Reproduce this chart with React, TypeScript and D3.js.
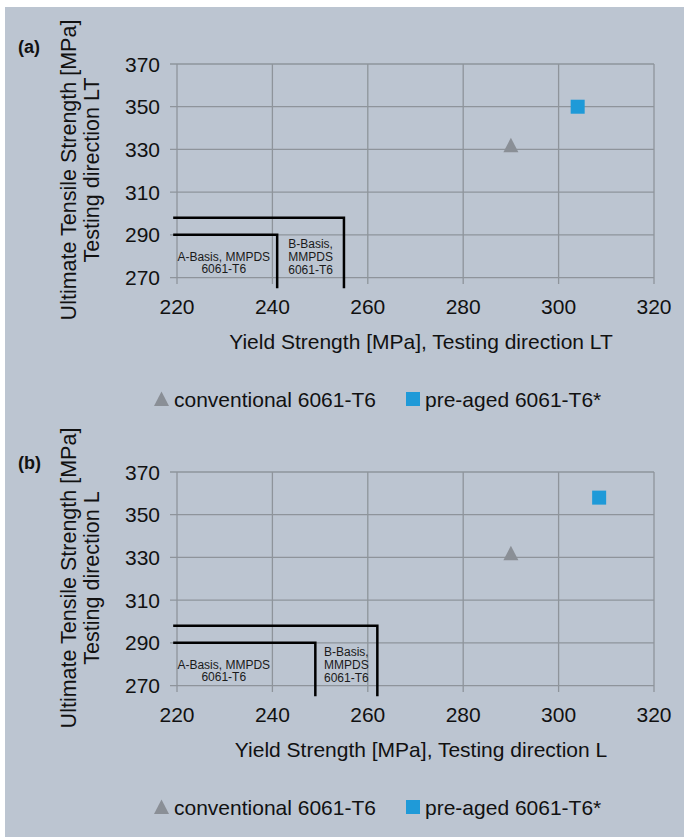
import React, { useEffect, useRef } from 'react'
import * as d3 from 'd3'

// axis ticks
const xTicks = [220, 240, 260, 280, 300, 320]
const yTicks = [270, 290, 310, 330, 350, 370]

// measured points [yield, UTS]
const conventionalLT = [290, 332]
const preAgedLT = [304, 350]
const conventionalL = [290, 332]
const preAgedL = [308.5, 358]

// MMPDS design allowables [yield, UTS]
const aBasisLT = [241, 290]
const bBasisLT = [255, 298]
const aBasisL = [249, 290]
const bBasisL = [262, 298]

const legendLabels = ['conventional 6061-T6', 'pre-aged 6061-T6*']

const FONT = '"Liberation Sans", Arial, sans-serif'
const BG = '#bcc5d1'
const GRID = '#8e949b'
const GREY = '#8a8f96'
const BLUE = '#1f9ad8'

function drawPanel(svg: any, opts: any) {
  const { top, label, labelY, dir, conv, pre, aB, bB } = opts
  const left = 177, right = 654
  const x = d3.scaleLinear().domain([220, 320]).range([left, right])
  const y = d3.scaleLinear().domain([267, 370]).range([top + 220, top])
  const bottom = y(267)

  const g = svg.append('g')

  // gridlines
  g.selectAll('line.h').data(yTicks).enter().append('line')
    .attr('x1', left - 7).attr('x2', right)
    .attr('y1', (d: number) => y(d)).attr('y2', (d: number) => y(d))
    .attr('stroke', GRID).attr('stroke-width', 1.3)
  g.selectAll('line.v').data(xTicks).enter().append('line')
    .attr('x1', (d: number) => x(d)).attr('x2', (d: number) => x(d))
    .attr('y1', top).attr('y2', bottom)
    .attr('stroke', GRID).attr('stroke-width', 1.3)

  // tick labels
  g.selectAll('text.yt').data(yTicks).enter().append('text')
    .attr('x', left - 17).attr('y', (d: number) => y(d)).attr('dy', '0.36em')
    .attr('text-anchor', 'end').attr('font-size', 21).attr('font-family', FONT)
    .attr('fill', '#111').text((d: number) => d)
  g.selectAll('text.xt').data(xTicks).enter().append('text')
    .attr('x', (d: number) => x(d)).attr('y', bottom + 22.5).attr('dy', '0.36em')
    .attr('text-anchor', 'middle').attr('font-size', 21).attr('font-family', FONT)
    .attr('fill', '#111').text((d: number) => d)

  // allowable boxes
  const xs = x(219.2)
  ;[aB, bB].forEach((b: number[]) => {
    g.append('path')
      .attr('d', `M${xs},${y(b[1])}H${x(b[0])}V${y(265)}`)
      .attr('fill', 'none').attr('stroke', '#000').attr('stroke-width', 2.5)
  })
  const aText = g.append('text').attr('font-size', 12).attr('font-family', FONT)
    .attr('fill', '#1a1a1a').attr('text-anchor', 'middle')
  ;['A-Basis, MMPDS', '6061-T6'].forEach((t, i) => {
    aText.append('tspan').attr('x', x(229.8)).attr('y', y(280) + 4.5 + i * 12.5).text(t)
  })
  const bText = g.append('text').attr('font-size', 12).attr('font-family', FONT)
    .attr('fill', '#1a1a1a').attr('text-anchor', 'middle')
  ;['B-Basis,', 'MMPDS', '6061-T6'].forEach((t, i) => {
    bText.append('tspan').attr('x', x((aB[0] + bB[0]) / 2)).attr('y', y(286) + 4.5 + i * 13).text(t)
  })

  // markers
  const tri = (cx: number, cy: number) =>
    `M${cx},${cy - 7.5}L${cx + 7.5},${cy + 7}L${cx - 7.5},${cy + 7}Z`
  g.append('path').attr('d', tri(x(conv[0]), y(conv[1]))).attr('fill', GREY)
  g.append('rect')
    .attr('x', x(pre[0]) - 7).attr('y', y(pre[1]) - 7)
    .attr('width', 14).attr('height', 14).attr('fill', BLUE)

  // panel label
  g.append('text').attr('x', 18).attr('y', labelY).attr('font-size', 18)
    .attr('font-weight', 'bold').attr('font-family', FONT).attr('fill', '#111').text(label)

  // axis titles
  const yMid = (top + bottom) / 2 - 4
  ;[`Ultimate Tensile Strength [MPa]`, `Testing direction ${dir}`].forEach((t, i) => {
    g.append('text').attr('transform', `translate(${68 + i * 23},${yMid}) rotate(-90)`)
      .attr('dy', '0.36em').attr('text-anchor', 'middle').attr('font-size', 21.5)
      .attr('font-family', FONT).attr('fill', '#111').text(t)
  })
  g.append('text').attr('x', 421).attr('y', bottom + 57).attr('dy', '0.36em')
    .attr('text-anchor', 'middle').attr('font-size', 21).attr('font-family', FONT)
    .attr('fill', '#111').text(`Yield Strength [MPa], Testing direction ${dir}`)

  // legend
  const ly = bottom + 115
  g.append('path').attr('d', tri(161.5, ly)).attr('fill', GREY)
  g.append('text').attr('x', 174).attr('y', ly).attr('dy', '0.36em').attr('font-size', 21)
    .attr('font-family', FONT).attr('fill', '#111').text(legendLabels[0])
  g.append('rect').attr('x', 406).attr('y', ly - 7).attr('width', 14).attr('height', 14).attr('fill', BLUE)
  g.append('text').attr('x', 425).attr('y', ly).attr('dy', '0.36em').attr('font-size', 21)
    .attr('font-family', FONT).attr('fill', '#111').text(legendLabels[1])
}

export default function App() {
  const ref = useRef<SVGSVGElement>(null)

  useEffect(() => {
    const svg = d3.select(ref.current)
    svg.selectAll('*').remove()

    svg.append('rect').attr('x', 5).attr('y', 7).attr('width', 679).attr('height', 830).attr('fill', BG)

    drawPanel(svg, { top: 64, label: '(a)', labelY: 53, dir: 'LT', conv: conventionalLT, pre: preAgedLT, aB: aBasisLT, bB: bBasisLT })
    drawPanel(svg, { top: 472, label: '(b)', labelY: 469, dir: 'L', conv: conventionalL, pre: preAgedL, aB: aBasisL, bB: bBasisL })
  }, [])

  return (
    <svg ref={ref} width={684} height={837}
      style={{ position: 'absolute', left: 0, top: 0, background: '#fff' }} />
  )
}
